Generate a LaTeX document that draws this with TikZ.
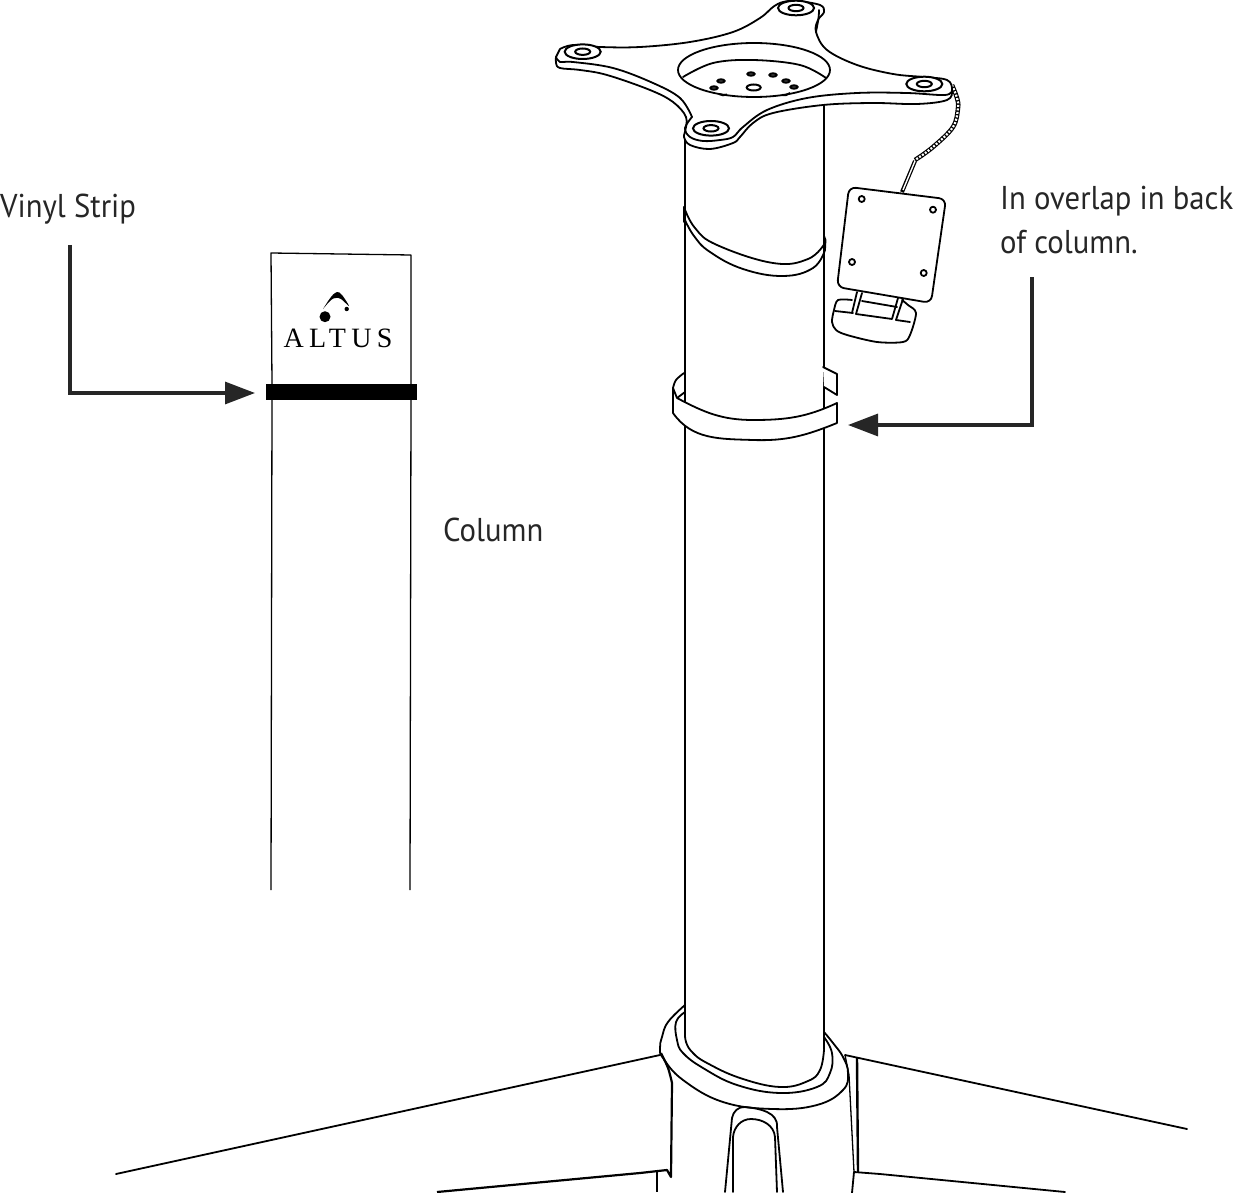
\documentclass[tikz,border=0pt]{standalone}
\usepackage{fontspec}
\usetikzlibrary{arrows.meta}
\setmainfont[FakeStretch=0.93]{PT Sans}
\newfontfamily\logofont[LetterSpace=19]{Liberation Serif}
\tikzset{
    line/.style={line width=1.8pt,line join=round,line cap=round},
    thin line/.style={line width=1.3pt,line join=round},
    label/.style={font=\fontsize{33}{44}\selectfont,inner sep=0pt,text=black!85,align=left},
    callout/.style={line width=3.2pt,draw=black!85,-{Triangle[length=30pt,width=22pt,color=black!85]}},
    washer/.style={line width=2pt}
}
\begin{document}
\begin{tikzpicture}[x=1pt,y=-1pt]
    \useasboundingbox (0,0) rectangle (1237,1193);
    % flat column
    \draw[thin line] (272,384) -- (271,253) -- (411,255) -- (411,384);
    \draw[thin line] (272,400) -- (271,890);
    \draw[thin line] (411,400) -- (410,890);
    \fill (265.7,383.5) rectangle (416.7,400);
    \fill (325,316.7) circle (5.5);
    \fill (346.7,309) circle (2.2);
    \fill plot[smooth,tension=.6] coordinates {(323,309) (331,297) (337,292) (342,295) (349,306) (341,299) (336,298) (331,300) (323,309)};
    \node[anchor=base,inner sep=0pt] (logotext) at (338,347) {\logofont\fontsize{28}{30}\selectfont ALTUS};
    \node[label,anchor=base west] (vinyl) at (0,218) {Vinyl Strip};
    \node[label,anchor=base west] (column) at (443,541) {Column};
    \node[label,anchor=base west] (overlap) at (1000,254) {In overlap in back\\of column.};
    \coordinate (vinylstart) at (70,245);
    \coordinate (vinyltip) at (255,393);
    \coordinate (overlapstart) at (1032,277);
    \coordinate (overlaptip) at (848,425);
    \draw[callout] (vinylstart) |- (vinyltip);
    \draw[callout] (overlapstart) |- (overlaptip);
    % real column
    \draw[line] (685,137) -- (685,1030);
    \draw[line] (824,105) -- (824,1050);
    \draw[line,fill=white] plot[smooth,tension=.7] coordinates {(685,1030) (686,1042) (693,1053) (707,1063) (740,1078) (780,1087) (808,1081) (820,1070) (824,1050)};
    % vinyl overlap on column
    \draw[line,fill=white] (684,207) -- (684,222);
    \draw[line] plot[smooth,tension=.7] coordinates {(684,207) (695,228) (717,245) (773,263) (808,259) (825,243)};
    \draw[line] plot[smooth,tension=.7] coordinates {(684,218) (694,236) (710,252) (743,269) (783,276) (813,268) (825,250)};
    \draw[line] (824,236) -- (825.5,240) -- (825,250);
    % strap
    \draw[line,fill=white] (823,367) -- (837,374) -- (837,395) -- (824,387);
    \draw[line] plot[smooth,tension=.6] coordinates {(684,373) (676,380) (673,388)};
    \draw[line] (677,398) -- (685,392);
    \draw[line,fill=white] (673,388) -- (673,413) to[out=-55,in=178] (753,440) to[out=-2,in=-158] (837,423) -- (837,403) to[out=-155,in=0] (753,420) to[out=180,in=-28] (677,398) -- cycle;
    % tray with cable
    \draw[line width=4.5pt] plot[smooth,tension=.6] coordinates {(952,85) (957,98) (958,108) (953,127) (933,147) (915,160)};
    \draw[line width=2.2pt,white,dash pattern=on 2pt off 1.5pt] plot[smooth,tension=.6] coordinates {(952,85) (957,98) (958,108) (953,127) (933,147) (915,160)};
    \draw[line width=4pt] (915,161) -- (902,192);
    \draw[line width=1.4pt,white] (915,161) -- (903,190);
    \draw[line,fill=white,rounded corners=7pt] (849,187) -- (946,199) -- (931,303) -- (837,287) -- cycle;
    \foreach \holex/\holey in {861.7/199,933/209.7,852/262,923.7/273}
        \draw[line,fill=white] (\holex,\holey) circle (3);
    \draw[line] plot[smooth,tension=.5] coordinates {(852,300) (838,300) (834,310) (832,322) (836,330) (847,335) (877,342) (903,342) (910,335) (916,313) (908,305) (902,300)};
    \draw[line] (835,311) -- (853,313);
    \draw[line] (896,320) -- (910,322);
    \draw[line] (857,292) -- (852,313);
    \draw[line] (862,293) -- (856,314) -- (892,319) -- (898,298);
    \draw[line] (903,299) -- (896,320);
    \draw[line] (862,301) -- (897,307);
    % top plate
    \draw[line,fill=white] plot[smooth,tension=.6] coordinates {(556,57) (556,63) (560,68) (580,70) (607,75) (650,90) (673,102) (686,117) (685,132)
        (684,137) (690,145) (710,149) (733,143) (740,137) (753,123) (773,113) (823,105) (873,103) (917,104) (947,100) (952,90)
        (947,80) (923,77) (893,74) (857,65) (827,50) (816,32) (818,20) (824,12) (820,5) (797,1) (783,2) (773,7) (760,18) (733,32) (690,42) (640,47) (600,47) (573,45) (560,49)}
        -- cycle;
    \draw[line] plot[smooth,tension=.6] coordinates {(556,57) (560,62) (573,62) (613,68) (653,83) (680,98) (692,117)};
    \draw[line] plot[smooth,tension=.6] coordinates {(692,117) (685,128) (690,137) (703,141) (720,140) (733,137) (743,127) (767,110) (807,98) (857,93) (907,93) (945,95) (952,90)};
    \draw[line] (819,10) to[out=-90,in=80] (816,32);
    \draw[line,fill=white] (754,70) ellipse (76 and 27);
    \draw[line] plot[smooth,tension=.6] coordinates {(683,77) (713,63) (753,60) (800,65) (826,78)};
    \foreach \spotx/\spoty in {721/81,714/88,751/74,773/75,786/81,794/87}
        \draw[washer,fill=black!70] (\spotx,\spoty) ellipse (3.6 and 1.7);
    \draw[washer] (753.7,87.5) ellipse (7 and 3);
    \draw[washer] (719,94) to[out=-25,in=205] (727,94.5);
    \draw[washer] (782,95) to[out=-25,in=205] (790,93);
    \foreach \lugx/\lugy in {582.7/51.7,796/8,924.3/84,711/128.3} {
        \draw[washer,fill=white] (\lugx,\lugy) ellipse (18 and 7.3);
        \draw[washer,fill=white] (\lugx,\lugy) ellipse (7.5 and 3.2);
    }
    % base
    \draw[line] plot[smooth,tension=.7] coordinates {(685,1005) (668,1022) (662,1037) (660,1048) (663,1058) (683,1080) (723,1102) (773,1109) (817,1105) (843,1090) (848,1073) (843,1057) (833,1043) (824,1032)};
    \draw[line] plot[smooth,tension=.7] coordinates {(685,1012) (676,1022) (677,1040) (683,1053) (703,1068) (737,1085) (780,1093) (817,1087) (830,1073) (832,1053) (824,1037)};
    \draw[line] (660,1055) -- (116,1174);
    \draw[line] (845,1055) -- (1187,1129);
    \draw[line width=2.2pt,line join=round] plot[smooth,tension=.6] coordinates {(661,1053) (668,1068) (672,1083)} -- (671,1177) -- (667,1170) -- (640,1173) -- (437,1192);
    \draw[thin line] (657,1172) -- (657,1192);
    \draw[thin line] (845,1055) -- (849,1075) -- (854,1172);
    \draw[line width=2.4pt] (857,1058) -- (858,1172);
    \draw[line] (1065,1192) -- (880,1174) -- (854,1172) -- (852,1193);
    \draw[line] (725,1192) -- (732,1118) to[out=80,in=175] (745,1107) to[out=-5,in=85] (777,1127) -- (783,1192);
    \draw[line] (733,1192) -- (733,1137) to[out=85,in=180] (751,1119) to[out=0,in=95] (775,1137) -- (777,1192);
\end{tikzpicture}
\end{document}
